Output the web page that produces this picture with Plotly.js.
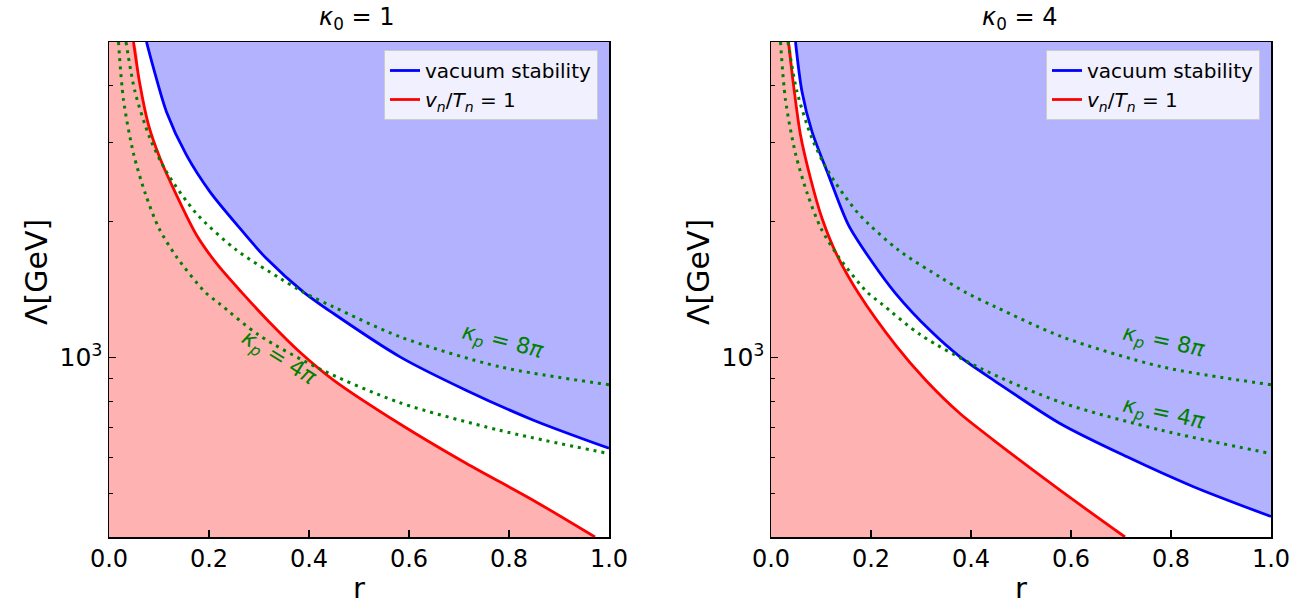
<!DOCTYPE html>
<html>
<head>
<meta charset="utf-8">
<script src="https://cdn.plot.ly/plotly-3.0.1.min.js"></script>
<style>html,body{margin:0;padding:0;background:#fff;}#chart{width:1302px;height:606px;}</style>
</head>
<body>
<div id="chart"></div>
<script>
// ---------- data ----------
const R_MIN = 0, R_MAX = 1;           // x-axis range
const L_MIN = 400, L_MAX = 5000;      // y-axis range (GeV, log)

// kappa_0 = 1 panel
const r_vac1 = [0.075, 0.089, 0.115, 0.155, 0.202, 0.262, 0.315, 0.389, 0.449, 0.582, 0.715, 0.849, 1.0];
const L_vac1 = [5000, 4375, 3500, 2807, 2328, 1932, 1656, 1396, 1251, 1003, 845, 726, 629];
const r_pt1  = [0.049, 0.062, 0.079, 0.102, 0.135, 0.175, 0.215, 0.265, 0.32, 0.382, 0.449, 0.582, 0.715, 0.849, 0.972];
const L_pt1  = [5000, 4018, 3274, 2762, 2289, 1867, 1615, 1395, 1200, 1027, 891, 712, 582, 482, 400];

// kappa_0 = 4 panel
const r_vac4 = [0.049, 0.062, 0.082, 0.115, 0.155, 0.202, 0.249, 0.318, 0.378, 0.445, 0.578, 0.711, 0.845, 1.0];
const L_vac4 = [5000, 3880, 3164, 2535, 1964, 1629, 1387, 1148, 1003, 891, 714, 603, 517, 444];
const r_pt4  = [0.035, 0.045, 0.059, 0.079, 0.102, 0.132, 0.175, 0.25, 0.31, 0.378, 0.445, 0.578, 0.708];
const L_pt4  = [5000, 4018, 3112, 2495, 2034, 1685, 1387, 1062, 889, 751, 656, 508, 400];

// perturbativity bounds (same in both panels)
const r_kp4 = [0.019, 0.029, 0.049, 0.073, 0.10, 0.135, 0.192, 0.22, 0.30, 0.42, 0.58, 0.78, 1.0];
const L_kp4 = [5000, 3720, 2830, 2300, 1932, 1671, 1396, 1318, 1120, 945, 795, 690, 612];
const r_kp8 = [0.034, 0.052, 0.082, 0.115, 0.175, 0.255, 0.342, 0.39, 0.449, 0.582, 0.782, 1.0];
const L_kp8 = [5000, 3880, 3058, 2577, 2083, 1729, 1497, 1392, 1294, 1111, 953, 870];

const xTicks = [0, 0.2, 0.4, 0.6, 0.8, 1.0];
const xTickText = ['0.0', '0.2', '0.4', '0.6', '0.8', '1.0'];
const yTicks = [1000];
const yTickText = ['10<sup>3</sup>'];
const yMinorTicks = [400, 500, 600, 700, 800, 900, 2000, 3000, 4000];

const titles = ['<i>κ</i><sub>0</sub> = 1', '<i>κ</i><sub>0</sub> = 4'];
const vacLabel = 'vacuum stability';
const ptLabel = '<i>v</i><sub><i>n</i></sub>/<i>T</i><sub><i>n</i></sub> = 1';
const kp8Label = '<i>κ</i><sub><i>p</i></sub> = 8<i>π</i>';
const kp4Label = '<i>κ</i><sub><i>p</i></sub> = 4<i>π</i>';

// ---------- styling ----------
const FONT = 'DejaVu Sans, Liberation Sans, sans-serif';
const BLUE = '#0000ff', RED = '#ff0000', GREEN = '#008000';
const BLUE_FILL = 'rgba(0,0,255,0.3)', RED_FILL = 'rgba(255,0,0,0.3)';
const SM = 0.8;

function panelTraces(xa, ya, legend, rVac, LVac, rPt, LPt) {
  const base = {xaxis: xa, yaxis: ya, hoverinfo: 'skip'};
  return [
    Object.assign({}, base, {x: [R_MIN, rPt[rPt.length - 1]], y: [L_MIN, L_MIN], mode: 'lines',
      line: {width: 0}, showlegend: false}),
    Object.assign({}, base, {x: [R_MIN].concat(rPt), y: [L_MAX].concat(LPt), mode: 'lines',
      line: {width: 0, shape: 'spline', smoothing: SM}, fill: 'tonexty', fillcolor: RED_FILL, showlegend: false}),
    Object.assign({}, base, {x: rVac, y: LVac, mode: 'lines', name: vacLabel, legend: legend, legendrank: 1,
      line: {color: BLUE, width: 2.8, shape: 'spline', smoothing: SM}}),
    Object.assign({}, base, {x: [rVac[0], R_MAX], y: [L_MAX, L_MAX], mode: 'lines',
      line: {width: 0}, fill: 'tonexty', fillcolor: BLUE_FILL, showlegend: false}),
    Object.assign({}, base, {x: rPt, y: LPt, mode: 'lines', name: ptLabel, legend: legend, legendrank: 2,
      line: {color: RED, width: 2.8, shape: 'spline', smoothing: SM}}),
    Object.assign({}, base, {x: r_kp4, y: L_kp4, mode: 'lines', showlegend: false,
      line: {color: GREEN, width: 3, dash: '3px,5px', shape: 'spline', smoothing: SM}}),
    Object.assign({}, base, {x: r_kp8, y: L_kp8, mode: 'lines', showlegend: false,
      line: {color: GREEN, width: 3, dash: '3px,5px', shape: 'spline', smoothing: SM}})
  ];
}

const data = [].concat(
  panelTraces('x', 'y', 'legend', r_vac1, L_vac1, r_pt1, L_pt1),
  panelTraces('x2', 'y2', 'legend2', r_vac4, L_vac4, r_pt4, L_pt4)
);

const W = 1302, H = 606;
const yDom = [1 - 537 / H, 1 - 42 / H];
function xAxis(dom, anchor) {
  return {domain: dom, anchor: anchor, range: [R_MIN, R_MAX], tickvals: xTicks, ticktext: xTickText,
    ticks: 'inside', ticklen: 7, tickwidth: 1.3, tickcolor: '#000', showline: true, linecolor: '#000',
    linewidth: 1.5, mirror: true, showgrid: false, zeroline: false,
    tickfont: {family: FONT, size: 24, color: '#000'}};
}
function yAxis(anchor) {
  return {domain: yDom, anchor: anchor, type: 'log', range: [Math.log10(L_MIN), Math.log10(L_MAX)],
    tickvals: yTicks, ticktext: yTickText, ticks: 'inside', ticklen: 7, tickwidth: 1.3, tickcolor: '#000',
    minor: {tickvals: yMinorTicks, ticks: 'inside', ticklen: 4, tickwidth: 1, tickcolor: '#000'},
    showline: true, linecolor: '#000', linewidth: 1.5, mirror: true, showgrid: false, zeroline: false,
    tickfont: {family: FONT, size: 25, color: '#000'}};
}

const legendStyle = {bgcolor: 'rgba(255,255,255,0.8)', bordercolor: '#cccccc', borderwidth: 1,
  font: {family: FONT, size: 20, color: '#000'}, xanchor: 'right', yanchor: 'top', traceorder: 'normal'};

function txt(x, y, xref, yref, text, size, color, angle) {
  return {x: x, y: y, xref: xref, yref: yref, text: text, showarrow: false, textangle: angle || 0,
    font: {family: FONT, size: size, color: color}, xanchor: 'center', yanchor: 'middle'};
}

const annotations = [
  txt(356 / W, 1 - 18 / H, 'paper', 'paper', titles[0], 24, '#000'),
  txt(1019 / W, 1 - 18 / H, 'paper', 'paper', titles[1], 24, '#000'),
  txt(359 / W, 1 - 588 / H, 'paper', 'paper', 'r', 29, '#000'),
  txt(1021 / W, 1 - 588 / H, 'paper', 'paper', 'r', 29, '#000'),
  txt(36 / W, 1 - 272 / H, 'paper', 'paper', 'Λ[GeV]', 30, '#000', -90),
  txt(698 / W, 1 - 272 / H, 'paper', 'paper', 'Λ[GeV]', 30, '#000', -90),
  txt(0.786, Math.log10(1077), 'x', 'y', kp8Label, 22, GREEN, 14),
  txt(0.338, Math.log10(995), 'x', 'y', kp4Label, 22, GREEN, 32),
  txt(0.784, Math.log10(1077), 'x2', 'y2', kp8Label, 22, GREEN, 12),
  txt(0.784, Math.log10(748), 'x2', 'y2', kp4Label, 22, GREEN, 12)
];

const layout = {
  width: W, height: H, margin: {l: 0, r: 0, t: 0, b: 0},
  paper_bgcolor: '#fff', plot_bgcolor: '#fff',
  font: {family: FONT, color: '#000'},
  xaxis: xAxis([109 / W, 609 / W], 'y'),
  yaxis: yAxis('x'),
  xaxis2: xAxis([771 / W, 1271 / W], 'y2'),
  yaxis2: yAxis('x2'),
  legend: Object.assign({}, legendStyle, {x: 598 / W, y: 1 - 50 / H}),
  legend2: Object.assign({}, legendStyle, {x: 1260 / W, y: 1 - 50 / H}),
  annotations: annotations,
  showlegend: true
};

Plotly.newPlot('chart', data, layout, {staticPlot: true, displayModeBar: false});
</script>
</body>
</html>
